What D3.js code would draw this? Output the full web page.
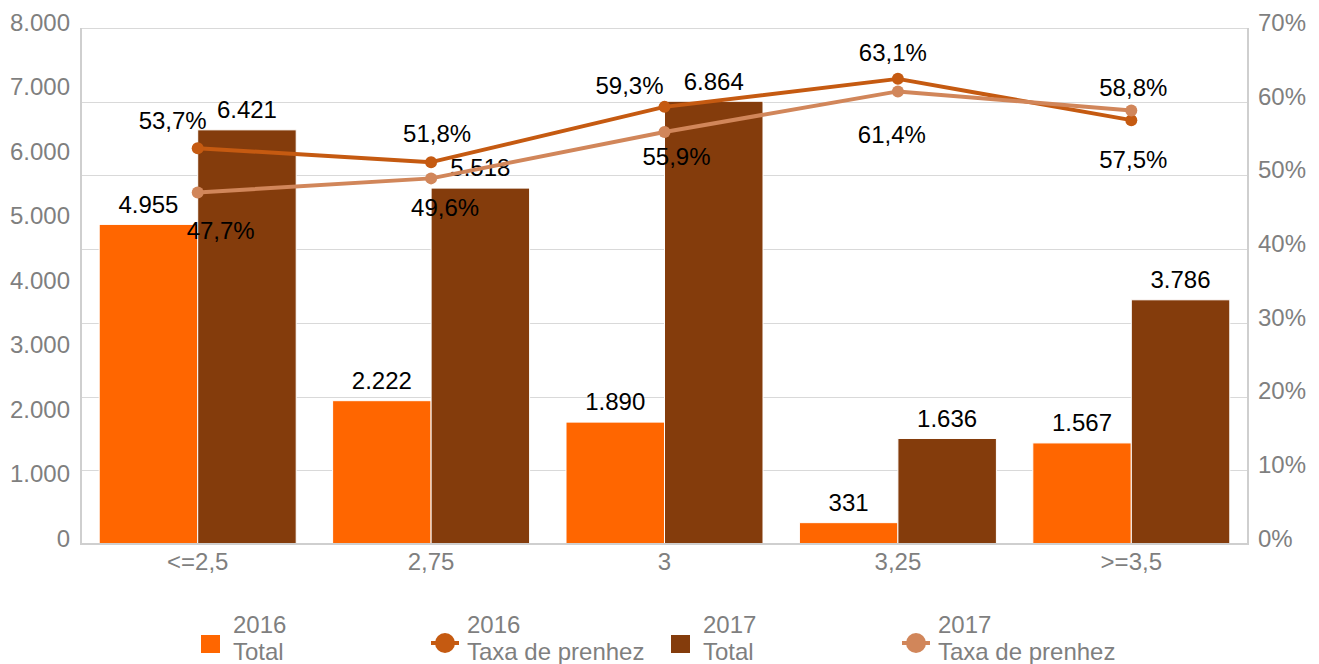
<!DOCTYPE html>
<html>
<head>
<meta charset="utf-8">
<script src="https://cdn.jsdelivr.net/npm/d3@7"></script>
<style>
  body { margin: 0; background: #fff; }
  svg { display: block; font-family: 'Liberation Sans', Arial, sans-serif; }
</style>
</head>
<body>
<svg id="chart" width="1319" height="664"></svg>
<script>
'use strict';

// data
const categories = ['<=2,5', '2,75', '3', '3,25', '>=3,5'];
const total2016 = [4955, 2222, 1890, 331, 1567];
const total2017 = [6421, 5518, 6864, 1636, 3786];
const taxa2016 = [53.7, 51.8, 59.3, 63.1, 57.5];
const taxa2017 = [47.7, 49.6, 55.9, 61.4, 58.8];
const leftTicks = [0, 1000, 2000, 3000, 4000, 5000, 6000, 7000, 8000];
const rightTicks = [0, 10, 20, 30, 40, 50, 60, 70];

// label offsets (centre of label relative to point), used to copy the placement
const offsets2016 = [[-25, -28], [6, -29], [-35, -21], [-5, -26], [2, 39]];
const offsets2017 = [[23, 38], [14, 29], [12, 25], [-6, 43], [2, -23]];

const colors = {
  bar2016: '#FF6600',
  bar2017: '#843C0C',
  line2016: '#C55A11',
  line2017: '#D1865A',
  axisText: '#7F7F7F',
  grid: '#D9D9D9',
  axis: '#CFCFCF'
};

const svg = d3.select('#chart');
const margin = { left: 81, right: 1248, top: 28, bottom: 544 };
const fontSize = 24;

const locale = d3.formatLocale({ decimal: ',', thousands: '.', grouping: [3], currency: ['', ''] });
const fmtInt = locale.format(',d');
const fmtPct = locale.format('.1f');

const x0 = d3.scaleBand()
  .domain(categories)
  .range([margin.left, margin.right])
  .paddingInner(0.156)
  .paddingOuter(0.078);

const x1 = d3.scaleBand()
  .domain(['2016', '2017'])
  .range([0, x0.bandwidth()]);

const yLeft = d3.scaleLinear().domain([0, 8000]).range([margin.bottom, margin.top]);
const yRight = d3.scaleLinear().domain([0, 70]).range([margin.bottom, margin.top]);

// gridlines follow the right axis
svg.append('g')
  .selectAll('line')
  .data(rightTicks.slice(1))
  .join('line')
  .attr('x1', margin.left)
  .attr('x2', margin.right)
  .attr('y1', d => Math.round(yRight(d)) + 0.5)
  .attr('y2', d => Math.round(yRight(d)) + 0.5)
  .attr('stroke', colors.grid)
  .attr('stroke-width', 1);

// bars
const rows = categories.map((c, i) => ({ cat: c, v2016: total2016[i], v2017: total2017[i] }));

const groups = svg.append('g')
  .selectAll('g')
  .data(rows)
  .join('g')
  .attr('transform', d => `translate(${x0(d.cat)},0)`);

groups.selectAll('rect')
  .data(d => [
    { key: '2016', value: d.v2016 },
    { key: '2017', value: d.v2017 }
  ])
  .join('rect')
  .attr('x', d => x1(d.key))
  .attr('y', d => yLeft(d.value))
  .attr('width', x1.bandwidth())
  .attr('height', d => yLeft(0) - yLeft(d.value))
  .attr('fill', d => (d.key === '2016' ? colors.bar2016 : colors.bar2017))
  .attr('stroke', '#fff')
  .attr('stroke-width', 1);

// axes lines
const axisG = svg.append('g');
axisG.append('line')
  .attr('x1', margin.left).attr('x2', margin.left)
  .attr('y1', margin.top).attr('y2', margin.bottom + 1)
  .attr('stroke', colors.axis).attr('stroke-width', 2);
axisG.append('line')
  .attr('x1', margin.right).attr('x2', margin.right)
  .attr('y1', margin.top).attr('y2', margin.bottom + 1)
  .attr('stroke', colors.axis).attr('stroke-width', 2);
axisG.append('line')
  .attr('x1', margin.left - 1).attr('x2', margin.right + 1)
  .attr('y1', margin.bottom).attr('y2', margin.bottom)
  .attr('stroke', colors.axis).attr('stroke-width', 2);

// left axis labels
const leftAxis = svg.append('g')
  .attr('transform', `translate(${margin.left},0)`)
  .call(d3.axisLeft(yLeft).tickValues(leftTicks).tickSize(0).tickPadding(11).tickFormat(fmtInt));

// right axis labels
const rightAxis = svg.append('g')
  .attr('transform', `translate(${margin.right},0)`)
  .call(d3.axisRight(yRight).tickValues(rightTicks).tickSize(0).tickPadding(10).tickFormat(d => d + '%'));

// category labels
const bottomAxis = svg.append('g')
  .attr('transform', `translate(0,${margin.bottom})`)
  .call(d3.axisBottom(x0).tickSize(0).tickPadding(9));

[leftAxis, rightAxis, bottomAxis].forEach(g => {
  g.select('.domain').remove();
  g.selectAll('text')
    .attr('fill', colors.axisText)
    .style('font-size', fontSize + 'px')
    .style('font-family', "'Liberation Sans', Arial, sans-serif");
});
leftAxis.selectAll('text').attr('dy', '0.1em');
rightAxis.selectAll('text').attr('dy', '0.1em');

// lines
const lineSeries = [
  { key: '2016', values: taxa2016, color: colors.line2016, offsets: offsets2016 },
  { key: '2017', values: taxa2017, color: colors.line2017, offsets: offsets2017 }
];

const cx = c => x0(c) + x0.bandwidth() / 2;

const line = d3.line()
  .x((d, i) => cx(categories[i]))
  .y(d => yRight(d));

lineSeries.forEach(s => {
  const g = svg.append('g');
  g.append('path')
    .datum(s.values)
    .attr('d', line)
    .attr('fill', 'none')
    .attr('stroke', s.color)
    .attr('stroke-width', 4)
    .attr('stroke-linejoin', 'round');
  g.selectAll('circle')
    .data(s.values)
    .join('circle')
    .attr('cx', (d, i) => cx(categories[i]))
    .attr('cy', d => yRight(d))
    .attr('r', 6)
    .attr('fill', s.color);
});

// bar value labels
groups.selectAll('text.bar-label')
  .data(d => [
    { key: '2016', value: d.v2016 },
    { key: '2017', value: d.v2017 }
  ])
  .join('text')
  .attr('class', 'bar-label')
  .attr('x', d => x1(d.key) + x1.bandwidth() / 2)
  .attr('y', d => yLeft(d.value) - 20)
  .attr('dy', '0.35em')
  .attr('text-anchor', 'middle')
  .attr('fill', '#000')
  .style('font-size', fontSize + 'px')
  .text(d => fmtInt(d.value));

// line value labels
lineSeries.forEach(s => {
  svg.append('g')
    .selectAll('text')
    .data(s.values)
    .join('text')
    .attr('x', (d, i) => cx(categories[i]) + s.offsets[i][0])
    .attr('y', (d, i) => yRight(d) + s.offsets[i][1])
    .attr('dy', '0.35em')
    .attr('text-anchor', 'middle')
    .attr('fill', '#000')
    .style('font-size', fontSize + 'px')
    .text(d => fmtPct(d) + '%');
});

// legend
const legendItems = [
  { year: '2016', name: 'Total', type: 'bar', color: colors.bar2016 },
  { year: '2016', name: 'Taxa de prenhez', type: 'line', color: colors.line2016 },
  { year: '2017', name: 'Total', type: 'bar', color: colors.bar2017 },
  { year: '2017', name: 'Taxa de prenhez', type: 'line', color: colors.line2017 }
];
const legendX = [201, 431, 671, 902];

const legend = svg.append('g')
  .selectAll('g')
  .data(legendItems)
  .join('g')
  .attr('transform', (d, i) => `translate(${legendX[i]},0)`);

legend.filter(d => d.type === 'bar')
  .append('rect')
  .attr('x', 0).attr('y', 635)
  .attr('width', 19).attr('height', 18)
  .attr('fill', d => d.color);

const lineLegend = legend.filter(d => d.type === 'line');
lineLegend.append('line')
  .attr('x1', 0).attr('x2', 28)
  .attr('y1', 643).attr('y2', 643)
  .attr('stroke', d => d.color)
  .attr('stroke-width', 4);
lineLegend.append('circle')
  .attr('cx', 14).attr('cy', 643)
  .attr('r', 10)
  .attr('fill', d => d.color);

const legendText = legend.append('text')
  .attr('x', d => (d.type === 'bar' ? 32 : 36))
  .attr('fill', colors.axisText)
  .style('font-size', fontSize + 'px');
legendText.append('tspan')
  .attr('y', 625).attr('dy', '0.35em')
  .text(d => d.year);
legendText.append('tspan')
  .attr('x', d => (d.type === 'bar' ? 32 : 36))
  .attr('y', 652).attr('dy', '0.35em')
  .text(d => d.name);
</script>
</body>
</html>
